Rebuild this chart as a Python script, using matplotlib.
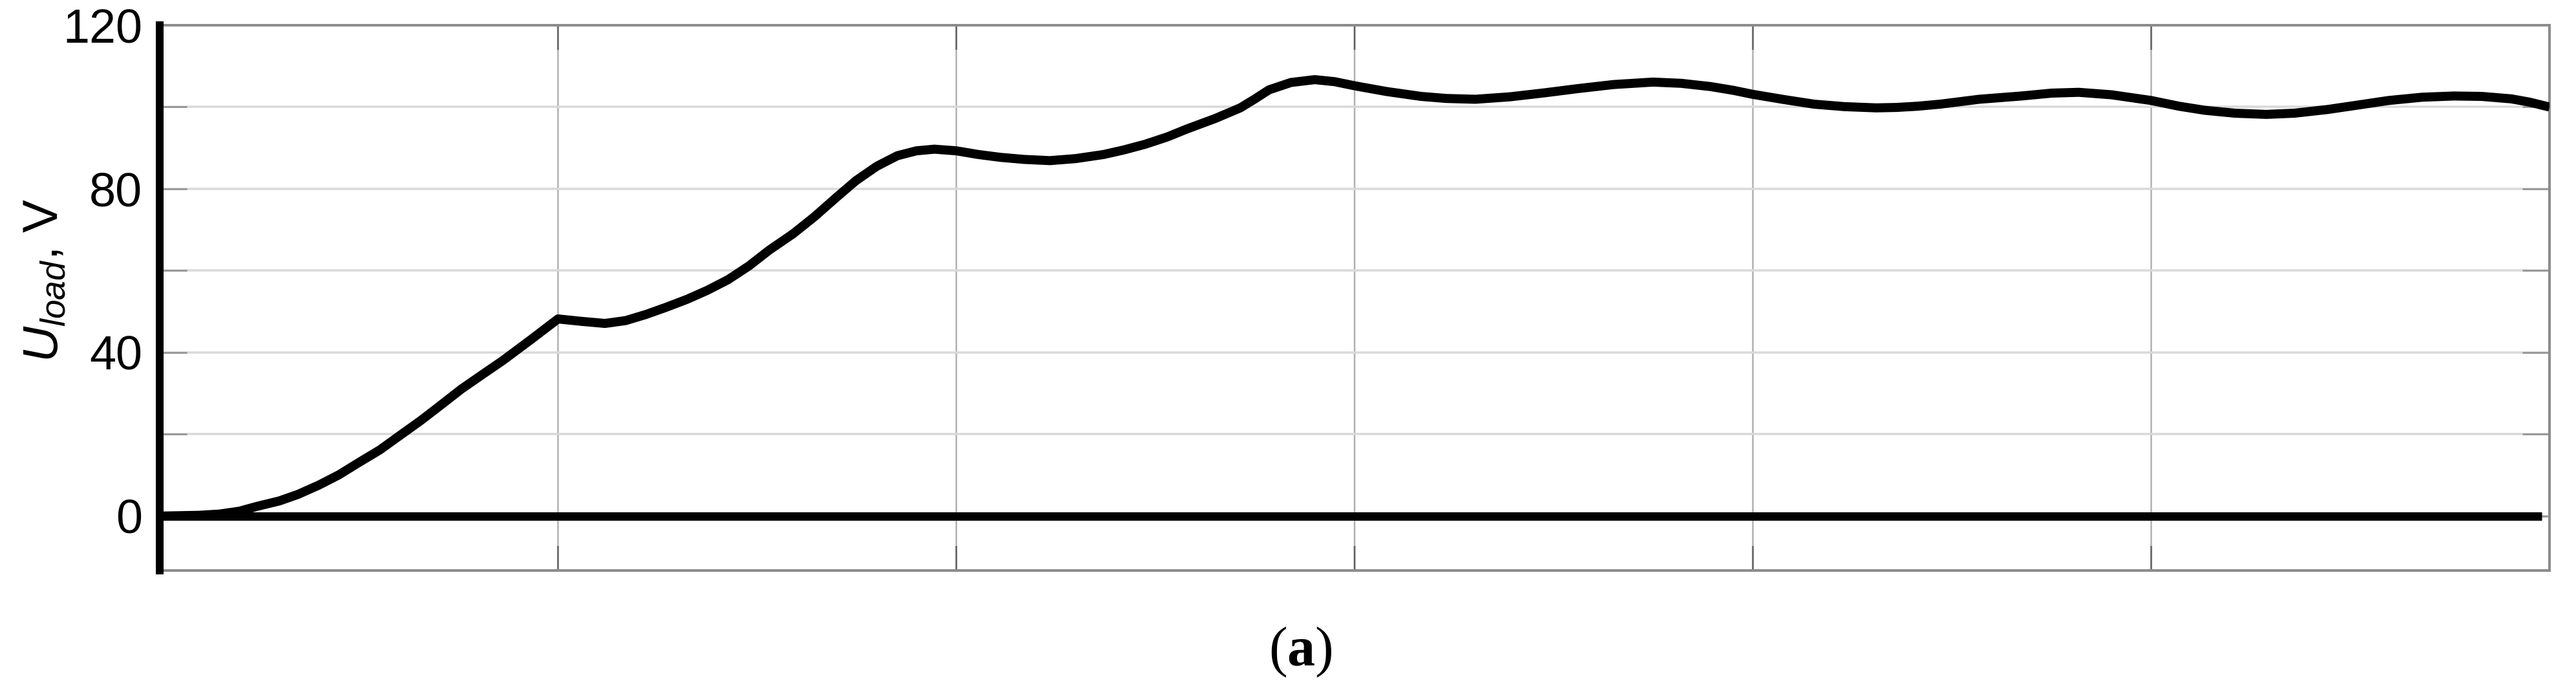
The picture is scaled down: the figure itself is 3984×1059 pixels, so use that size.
import matplotlib
matplotlib.use("Agg")
import matplotlib.pyplot as plt
from matplotlib.ticker import FixedLocator, FuncFormatter, NullFormatter

# ---- data ----
t_load = [0.0, 0.1, 0.15, 0.2, 0.245, 0.3, 0.347, 0.4, 0.45, 0.5, 0.553, 0.6,
          0.656, 0.7, 0.758, 0.81, 0.861, 0.93, 1.0,
          1.06, 1.118, 1.17, 1.221, 1.27, 1.324, 1.375, 1.427, 1.48, 1.53,
          1.59, 1.644, 1.7, 1.748, 1.8, 1.852, 1.9, 1.945,
          2.0, 2.055, 2.111, 2.17, 2.235, 2.3, 2.37, 2.42, 2.474, 2.53, 2.578,
          2.65, 2.713, 2.75, 2.785, 2.84, 2.9, 2.95,
          3.0, 3.08, 3.167, 3.23, 3.303, 3.39, 3.479, 3.56, 3.65, 3.749, 3.82,
          3.894, 3.95, 4.0, 4.08, 4.154, 4.23, 4.309, 4.36, 4.413, 4.47, 4.568,
          4.674, 4.75, 4.818, 4.9, 5.0, 5.07, 5.135, 5.21, 5.289, 5.36, 5.443,
          5.52, 5.596, 5.68, 5.76, 5.83, 5.904, 5.95, 6.0]
u_load = [0.0, 0.2, 0.5, 1.2, 2.4, 3.7, 5.3, 7.6, 10.1, 13.1, 16.2, 19.5,
          23.4, 26.7, 31.1, 34.6, 38.0, 43.0, 48.2,
          47.6, 47.1, 47.8, 49.3, 51.0, 53.0, 55.2, 57.8, 61.2, 65.0,
          69.0, 73.2, 78.0, 82.0, 85.5, 88.1, 89.3, 89.7,
          89.3, 88.4, 87.7, 87.2, 86.9, 87.4, 88.4, 89.5, 90.9, 92.7, 94.6,
          97.2, 99.8, 102.0, 104.2, 106.0, 106.7, 106.2,
          105.2, 103.8, 102.6, 102.1, 101.9, 102.5, 103.5, 104.5, 105.5, 106.1, 105.8,
          105.0, 104.1, 103.1, 101.8, 100.7, 100.1, 99.8, 99.9, 100.2, 100.7, 101.9,
          102.7, 103.4, 103.6, 103.0, 101.6, 100.2, 99.2, 98.5, 98.2, 98.5, 99.4,
          100.5, 101.6, 102.4, 102.7, 102.6, 102.0, 101.2, 100.0]
t_zero = [0.0, 5.98]
u_zero = [0.0, 0.0]

y_ticks = [0, 20, 40, 60, 80, 100, 120]
y_labeled = [0, 40, 80, 120]
x_ticks = [0, 1, 2, 3, 4, 5, 6]

ylabel_text = r'$\mathit{U}_{\mathit{load}}$, V'
caption_text = r'($\mathbf{a}$)'

# ---- style ----
plt.rcParams['font.family'] = ['Liberation Sans', 'DejaVu Sans']
plt.rcParams['mathtext.fontset'] = 'custom'
plt.rcParams['mathtext.rm'] = 'Liberation Sans'
plt.rcParams['mathtext.it'] = 'Liberation Sans:italic'
plt.rcParams['mathtext.bf'] = 'Liberation Serif:bold'

DPI = 100
W, H = 3984, 1059
px = 72.0 / DPI  # points per pixel

fig = plt.figure(figsize=(W / DPI, H / DPI), dpi=DPI)
left, right, top, bottom = 247, 3943, 39, 882
ax = fig.add_axes([left / W, 1 - bottom / H, (right - left) / W, (bottom - top) / H])

ax.set_xlim(0, 6)
ax.set_ylim(-13.3, 120)

# grid
ax.yaxis.set_major_locator(FixedLocator(y_ticks))
ax.yaxis.set_major_formatter(FuncFormatter(lambda v, p: f"{int(round(v))}" if int(round(v)) in y_labeled else ""))
ax.xaxis.set_major_locator(FixedLocator(x_ticks))
ax.xaxis.set_major_formatter(NullFormatter())

ax.grid(axis='y', color='#d9d9d9', linewidth=3.5 * px, zorder=0)
ax.grid(axis='x', color='#b0b0b0', linewidth=2.5 * px, zorder=0)
ax.set_axisbelow(True)

# data lines
ax.plot(t_zero, u_zero, color='black', linewidth=13 * px, solid_capstyle='butt', zorder=3)
ax.plot(t_load, u_load, color='black', linewidth=14 * px, solid_joinstyle='round',
        solid_capstyle='butt', zorder=4)

# spines
for s in ['top', 'right', 'bottom']:
    ax.spines[s].set_color('#8c8c8c')
    ax.spines[s].set_linewidth(4 * px)
ax.spines['left'].set_color('black')
ax.spines['left'].set_linewidth(12 * px)
ax.spines['left'].set_zorder(5)

# ticks
ax.tick_params(axis='y', which='major', direction='in', length=42 * px, width=3 * px,
               color='#9a9a9a', left=True, right=True, labelsize=53, pad=27 * px,
               labelcolor='black')
ax.tick_params(axis='x', which='major', direction='in', length=38 * px, width=2.5 * px,
               color='#606060', top=True, bottom=True, labelbottom=False)

# y label
fig.text(70 / W, 1 - 433 / H, ylabel_text, rotation=90, ha='center', va='center',
         fontsize=55, family='Liberation Sans')

# caption
fig.text(2011 / W, 1 - 1008 / H, caption_text, ha='center', va='center',
         fontsize=62, family='Liberation Serif')

fig.savefig('out.png', dpi=DPI, facecolor='white')
